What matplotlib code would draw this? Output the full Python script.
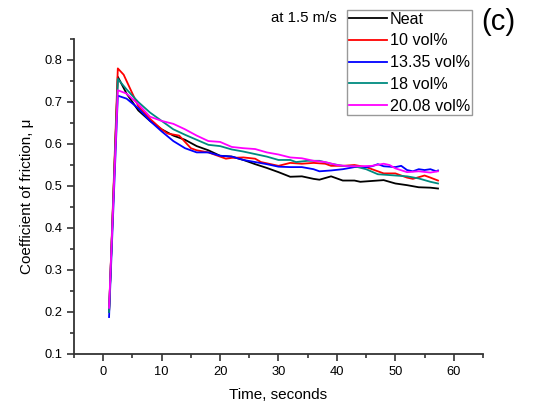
import matplotlib
matplotlib.use("Agg")
import matplotlib.pyplot as plt
from matplotlib.ticker import MultipleLocator

plt.rcParams["font.family"] = ["Liberation Sans", "DejaVu Sans"]

# time (s) and coefficient of friction
t_neat = [1, 2.5, 4, 6, 8, 10, 12, 14, 16, 18, 20, 22, 24, 26, 28, 30, 32, 34, 36, 37,
          39, 41, 43, 44, 46, 48, 50, 52, 54, 56, 57.3]
mu_neat = [0.2, 0.76, 0.72, 0.68, 0.655, 0.635, 0.62, 0.61, 0.595, 0.585, 0.572, 0.57,
           0.562, 0.552, 0.543, 0.533, 0.522, 0.523, 0.517, 0.515, 0.523, 0.513, 0.513,
           0.51, 0.512, 0.514, 0.506, 0.502, 0.497, 0.496, 0.494]

t_10 = [1, 2.5, 3.5, 5, 6, 8, 10, 11, 13, 15, 16, 18, 20, 21, 22, 24, 26, 27, 30, 32,
        34, 36, 38, 39, 41, 43, 45, 47, 48, 50, 51, 52, 53, 55, 56, 57.3]
mu_10 = [0.2, 0.78, 0.765, 0.72, 0.69, 0.66, 0.635, 0.625, 0.62, 0.59, 0.585, 0.58,
         0.57, 0.565, 0.567, 0.568, 0.565, 0.557, 0.548, 0.555, 0.553, 0.555, 0.553,
         0.548, 0.548, 0.55, 0.545, 0.535, 0.53, 0.53, 0.525, 0.52, 0.517, 0.525, 0.52,
         0.513]

t_1335 = [1, 2.5, 4, 6, 8, 10, 12, 14, 16, 18, 20, 22, 24, 26, 28, 30, 32, 34, 36, 37,
          39, 41, 43, 45, 46, 47, 48, 50, 51, 52, 53, 54, 55, 56, 57, 57.3]
mu_1335 = [0.188, 0.715, 0.708, 0.685, 0.655, 0.63, 0.607, 0.59, 0.58, 0.58, 0.572,
           0.57, 0.562, 0.557, 0.552, 0.546, 0.545, 0.545, 0.54, 0.535, 0.537, 0.54,
           0.545, 0.545, 0.547, 0.552, 0.547, 0.545, 0.548, 0.538, 0.535, 0.54, 0.538,
           0.54, 0.535, 0.537]

t_18 = [1, 2.5, 4, 6, 8, 10, 12, 14, 16, 18, 20, 22, 24, 26, 28, 30, 32, 33, 35, 37,
        39, 41, 43, 45, 47, 50, 52, 54, 56, 57.3]
mu_18 = [0.2, 0.755, 0.73, 0.7, 0.675, 0.655, 0.635, 0.622, 0.61, 0.598, 0.595, 0.587,
         0.582, 0.576, 0.57, 0.562, 0.562, 0.557, 0.56, 0.56, 0.553, 0.548, 0.547, 0.54,
         0.528, 0.525, 0.523, 0.518, 0.51, 0.506]

t_2008 = [1, 2.5, 4, 6, 8, 10, 12, 14, 16, 18, 20, 22, 24, 26, 28, 30, 32, 34, 36, 38,
          40, 42, 44, 46, 48, 49, 50, 52, 54, 56, 57.3]
mu_2008 = [0.21, 0.728, 0.72, 0.695, 0.665, 0.655, 0.648, 0.635, 0.62, 0.607, 0.605,
           0.593, 0.59, 0.588, 0.58, 0.575, 0.568, 0.566, 0.56, 0.557, 0.55, 0.547,
           0.547, 0.548, 0.553, 0.55, 0.542, 0.533, 0.535, 0.532, 0.535]

series = [
    ("Neat", t_neat, mu_neat, "black"),
    ("10 vol%", t_10, mu_10, "#ff0000"),
    ("13.35 vol%", t_1335, mu_1335, "#0000ff"),
    ("18 vol%", t_18, mu_18, "#008b80"),
    ("20.08 vol%", t_2008, mu_2008, "#ff00ff"),
]

fig = plt.figure(figsize=(5.35, 4.05), dpi=100)
ax = fig.add_axes([74 / 535, 1 - 354 / 405, (483 - 74) / 535, (354 - 39) / 405])
for name, t, mu, col in series:
    ax.plot(t, mu, color=col, lw=1.3, label=name)

ax.set_xlim(-5, 65)
ax.set_ylim(0.1, 0.85)
ax.xaxis.set_major_locator(MultipleLocator(10))
ax.xaxis.set_minor_locator(MultipleLocator(5))
ax.yaxis.set_major_locator(MultipleLocator(0.1))
ax.yaxis.set_minor_locator(MultipleLocator(0.05))
ax.tick_params(which="both", direction="out", width=1.2, labelsize=9.3, color="#333")
ax.tick_params(which="major", length=5)
ax.tick_params(which="minor", length=3)
ax.set_yticks([0.1, 0.2, 0.3, 0.4, 0.5, 0.6, 0.7, 0.8])
ax.set_yticklabels(["0.1", "0.2", "0.3", "0.4", "0.5", "0.6", "0.7", "0.8"])
for s in ("top", "right"):
    ax.spines[s].set_visible(False)
for s in ("left", "bottom"):
    ax.spines[s].set_linewidth(1.3)
    ax.spines[s].set_color("#333")

ax.set_xlabel("Time, seconds", fontsize=11, labelpad=7)
ax.set_ylabel("Coefficient of friction, μ", fontsize=11, labelpad=7)

leg = fig.legend(loc="upper left", bbox_to_anchor=(347 / 535, 1 - 10 / 405), fontsize=11.6,
                 handlelength=2.4, handletextpad=0.15, labelspacing=0.42, borderpad=0.1,
                 borderaxespad=0, fancybox=False, framealpha=1)
leg.get_frame().set_edgecolor("#999")
leg.get_frame().set_linewidth(1.0)

fig.text(337 / 535, 1 - 18 / 405, "at 1.5 m/s", fontsize=10.8, ha="right", va="center")
fig.text(481 / 535, 1 - 22 / 405, "(c)", fontsize=21, ha="left", va="center")

fig.savefig("out.png", dpi=100, facecolor="white")
